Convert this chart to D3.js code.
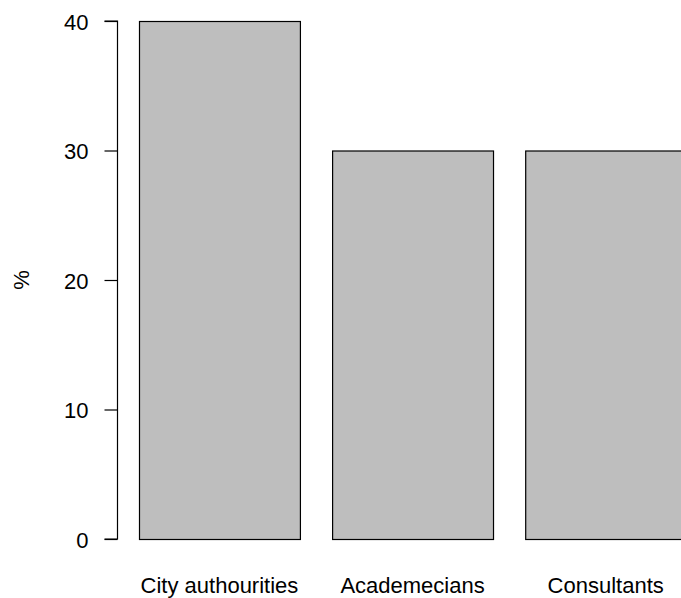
<!DOCTYPE html>
<html>
<head>
<meta charset="utf-8">
<script src="https://cdn.jsdelivr.net/npm/d3@7"></script>
<style>
  html, body { margin: 0; padding: 0; background: #fff; }
  svg { display: block; }
  text { font-family: "Liberation Sans", Arial, sans-serif; fill: #000; }
</style>
</head>
<body>
<script>
const categories = ["City authourities", "Academecians", "Consultants"];
const values = [40, 30, 30];
const yTicks = [0, 10, 20, 30, 40];
const yLabel = "%";

const W = 681, H = 598;
const svg = d3.select("body").append("svg").attr("width", W).attr("height", H);

const x = d3.scaleBand()
  .domain(categories)
  .range([139, 139 + 193.1 * (3 - 1/6)])
  .paddingInner(1/6)
  .paddingOuter(0);

const y = d3.scaleLinear().domain([0, 40]).range([539, 21]);

svg.selectAll("rect.bar")
  .data(categories)
  .enter().append("rect")
  .attr("class", "bar")
  .attr("x", d => x(d) + 0.5)
  .attr("y", (d, i) => y(values[i]) + 0.5)
  .attr("width", x.bandwidth())
  .attr("height", (d, i) => y(0) - y(values[i]))
  .attr("fill", "#bebebe")
  .attr("stroke", "#000")
  .attr("stroke-width", 1.2);

const yAxis = d3.axisLeft(y).tickValues(yTicks).tickSize(13).tickPadding(16).tickFormat(d3.format("d"));
const ga = svg.append("g").attr("transform", "translate(117.5,0)").call(yAxis);
ga.select(".domain").attr("d", `M-13,${y(0)}H0V${y(40)}H-13`).attr("stroke", "#000").attr("stroke-width", 1.2).attr("fill", "none");
ga.selectAll(".tick line").remove();
ga.selectAll(".tick").append("line").attr("x1", -13).attr("x2", 0).attr("stroke", "#000").attr("stroke-width", 1.2);
ga.selectAll(".tick text").attr("font-size", 22).attr("font-family", "Liberation Sans, Arial, sans-serif").attr("fill", "#000").attr("dy", "0.38em");

svg.selectAll("text.xlab")
  .data(categories)
  .enter().append("text")
  .attr("class", "xlab")
  .attr("x", d => x(d) + x.bandwidth() / 2)
  .attr("y", 593)
  .attr("text-anchor", "middle")
  .attr("font-size", 22)
  .text(d => d);

svg.append("text")
  .attr("transform", `translate(29,${(y(0) + y(40)) / 2}) rotate(-90)`)
  .attr("text-anchor", "middle")
  .attr("font-size", 22)
  .text(yLabel);
</script>
</body>
</html>
